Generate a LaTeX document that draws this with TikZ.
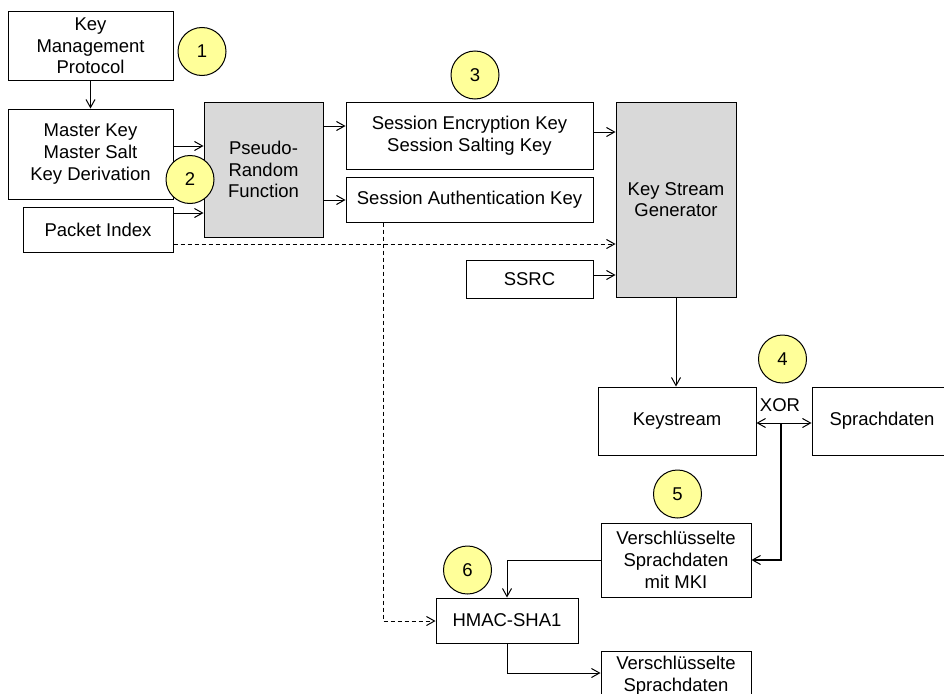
\documentclass[tikz,border=0pt]{standalone}
\usepackage{fontspec}
\setmainfont{Liberation Sans}
\usetikzlibrary{arrows.meta}
\definecolor{boxgray}{RGB}{217,217,217}
\definecolor{markyellow}{RGB}{255,255,153}
\tikzset{
  plainbox/.style={draw=black, line width=1pt, fill=white, inner sep=0pt, align=center,
    font=\fontsize{18.5}{21.7}\selectfont},
  graybox/.style={plainbox, fill=boxgray},
  stepmark/.style={circle, draw=black, line width=1pt, fill=markyellow, minimum size=48pt,
    inner sep=0pt, font=\fontsize{18.5}{21.7}\selectfont},
  arr/.style={line width=1pt, -{Straight Barb[length=8pt,width=9pt]}},
  dasharr/.style={arr, dash pattern=on 4pt off 3pt},
  boldarr/.style={line width=2pt, -{Straight Barb[length=8pt,width=9pt,line width=1pt]}},
  lbl/.style={inner sep=0pt, font=\fontsize{18.5}{21.7}\selectfont}
}
\begin{document}
\begin{tikzpicture}[x=1pt, y=-1pt]
\path[use as bounding box] (0,0) rectangle (944,693);
\clip (0,0) rectangle (944,693);

% key derivation part
\node[plainbox, minimum width=165, minimum height=68] (kmp) at (90.5,46) {Key\\Management\\Protocol};
\node[plainbox, minimum width=165, minimum height=90] (mk) at (90.5,154) {Master Key\\Master Salt\\Key Derivation};
\node[plainbox, minimum width=150, minimum height=45] (pi) at (98,229.5) {Packet Index};
\node[graybox, minimum width=119, minimum height=135] (prf) at (263.5,169.5) {Pseudo-\\Random\\Function};
\node[plainbox, minimum width=247, minimum height=67] (sek) at (469.5,135.5) {Session Encryption Key\\Session Salting Key};
\node[plainbox, minimum width=247, minimum height=45] (sak) at (469.5,199.5) {Session Authentication Key};
\node[graybox, minimum width=120, minimum height=195] (ksg) at (676,199.5) {Key Stream\\Generator};
\node[plainbox, minimum width=127, minimum height=38] (ssrc) at (529.5,279) {SSRC};

% encryption part
\node[plainbox, minimum width=158, minimum height=68] (ks) at (677,421) {Keystream};
\node[plainbox, minimum width=140, minimum height=68] (sd) at (882,421) {Sprachdaten};
\node[plainbox, minimum width=150, minimum height=74] (vsm) at (676,560) {Verschlüsselte\\Sprachdaten\\mit MKI};
\node[plainbox, minimum width=142, minimum height=45] (hmac) at (507,620.5) {HMAC-SHA1};
\node[plainbox, minimum width=150, minimum height=50] (vs) at (676,676) {Verschlüsselte\\Sprachdaten};

% connectors
\draw[arr] (kmp.south) -- (mk.north);
\draw[arr] (mk.east |- 0,146) -- (prf.west |- 0,146);
\draw[arr] (pi.east |- 0,213) -- (prf.west |- 0,213);
\draw[arr] (prf.east |- 0,126) -- (sek.west |- 0,126);
\draw[arr] (prf.east |- 0,200) -- (sak.west |- 0,200);
\draw[arr] (sek.east |- 0,132) -- (ksg.west |- 0,132);
\draw[dasharr] (pi.east |- 0,244) -- (ksg.west |- 0,244);
\draw[arr] (ssrc.east |- 0,275) -- (ksg.west |- 0,275);
\draw[dasharr] (sak.south -| 383,0) |- (hmac.west |- 0,621);
\draw[arr] (ksg.south) -- (ksg.south |- ks.north);
\draw[line width=1pt, {Straight Barb[length=8pt,width=9pt]}-{Straight Barb[length=8pt,width=9pt]}]
  (ks.east |- 0,423) -- (sd.west |- 0,423);
\coordinate (xorpt) at (781,423);
\node[lbl] (xor) at (780,405) {XOR};
\draw[boldarr] (xorpt) |- (vsm.east);
\draw[arr] (vsm.west) -| (hmac.north);
\draw[arr] (hmac.south) |- (vs.west |- 0,673);

% step markers
\node[stepmark] (m1) at (202,51.5) {1};
\node[stepmark] (m2) at (190,179.5) {2};
\node[stepmark] (m3) at (475,75) {3};
\node[stepmark] (m4) at (782.5,359) {4};
\node[stepmark] (m5) at (677.5,494) {5};
\node[stepmark] (m6) at (467.5,570) {6};
\end{tikzpicture}
\end{document}
